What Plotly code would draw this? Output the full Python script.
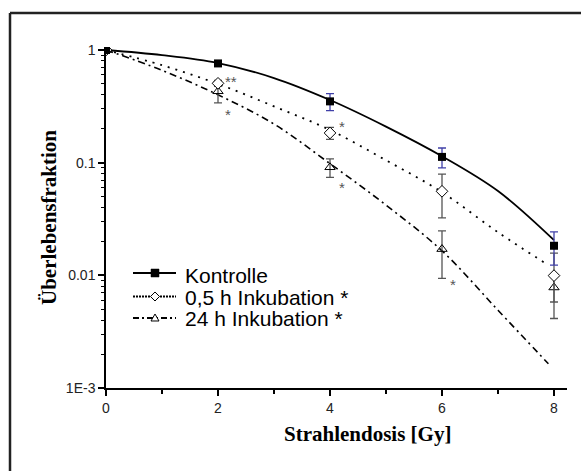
import math
import plotly.graph_objects as go

# Dose points (Gy)
dose = [0, 2, 4, 6, 8]

# Survival fractions with error bars
kontrolle = [1.0, 0.76, 0.35, 0.1125, 0.0183]
kontrolle_err = [0.0, 0.02, 0.06, 0.0225, 0.006]

inkub_05h = [1.0, 0.506, 0.1835, 0.0557, 0.00994]
inkub_05h_err = [0.0, 0.03, 0.0225, 0.0234, 0.0058]

inkub_24h = [1.0, 0.43, 0.091, 0.0171, 0.0078]
inkub_24h_err = [0.0, 0.09, 0.017, 0.0077, 0.002]

# Fitted survival curves
fit_x_ctrl = [0, 1, 2, 3, 4, 5, 6, 7, 8]
fit_ctrl = [1.0, 0.90, 0.766, 0.564, 0.36, 0.209, 0.114, 0.056, 0.0205]
fit_x_05h = [0, 1, 2, 3, 4, 5, 6, 7, 7.9]
fit_05h = [1.0, 0.733, 0.50, 0.316, 0.195, 0.105, 0.0547, 0.0241, 0.0123]
fit_x_24h = [0, 1, 2, 3, 4, 5, 6, 7, 7.9]
fit_24h = [1.0, 0.66, 0.40, 0.22, 0.098, 0.042, 0.0165, 0.0049, 0.00164]

# Significance markers
star_x = [2.24, 2.18, 4.22, 4.21, 6.19]
star_y = [0.57, 0.293, 0.226, 0.066, 0.00903]
star_txt = ["**", "*", "*", "*", "*"]

legend_names = ["Kontrolle", "0,5 h Inkubation *", "24 h Inkubation *"]

y_tickvals = [1, 0.1, 0.01, 0.001]
y_ticktext = ["1", "0.1", "0.01", "1E-3"]
x_tickvals = [0, 2, 4, 6, 8]

W, H = 581, 471
ML, MR, MT, MB = 106, 14, 47, 83
PW, PH = W - ML - MR, H - MT - MB


def px(x):
    return (x - ML) / PW


def py(y):
    return (H - MB - y) / PH


SANS = "Liberation Sans, Arial, sans-serif"
SERIF = "Liberation Serif, Times New Roman, serif"

fig = go.Figure()

# curves
fig.add_trace(go.Scatter(x=fit_x_ctrl, y=fit_ctrl, mode="lines", line_shape="spline",
                         line=dict(color="black", width=1.8), hoverinfo="skip"))
fig.add_trace(go.Scatter(x=fit_x_05h, y=fit_05h, mode="lines", line_shape="spline",
                         line=dict(color="black", width=1.8, dash="2px,6px"), hoverinfo="skip"))
fig.add_trace(go.Scatter(x=fit_x_24h, y=fit_24h, mode="lines", line_shape="spline",
                         line=dict(color="black", width=1.6, dash="7px,4px,2px,4px"), hoverinfo="skip"))

# data points
fig.add_trace(go.Scatter(x=dose, y=inkub_24h, mode="markers", name=legend_names[2],
                         marker=dict(symbol="triangle-up-open", size=9, color="black", line=dict(width=1)),
                         error_y=dict(type="data", array=inkub_24h_err, color="#555555", thickness=1.3, width=4)))
fig.add_trace(go.Scatter(x=dose, y=inkub_05h, mode="markers", name=legend_names[1],
                         marker=dict(symbol="diamond", size=9, color="white", line=dict(width=1, color="black")),
                         error_y=dict(type="data", array=inkub_05h_err, color="#555555", thickness=1.3, width=4)))
fig.add_trace(go.Scatter(x=dose, y=kontrolle, mode="markers", name=legend_names[0],
                         marker=dict(symbol="square", size=8, color="black"),
                         error_y=dict(type="data", array=kontrolle_err, color="#4040a8", thickness=1.3, width=4)))

annotations = []
for sx, sy, st in zip(star_x, star_y, star_txt):
    annotations.append(dict(x=sx, y=math.log10(sy), xref="x", yref="y", text=st, showarrow=False,
                            font=dict(family=SANS, size=15, color="#555555"),
                            xanchor="center", yanchor="middle", yshift=-4))

# legend block
rows = [273, 296.5, 318]
text_rows = [275, 297, 318]
for name, ty in zip(legend_names, text_rows):
    annotations.append(dict(x=px(183), y=py(ty), xref="paper", yref="paper", text=name,
                            showarrow=False, xanchor="left", yanchor="middle",
                            font=dict(family=SANS, size=21, color="black")))

annotations.append(dict(x=px(367), y=py(434), xref="paper", yref="paper",
                        text="<b>Strahlendosis [Gy]</b>", showarrow=False,
                        xanchor="center", yanchor="middle",
                        font=dict(family=SERIF, size=21, color="black")))
annotations.append(dict(x=px(49), y=py(218), xref="paper", yref="paper",
                        text="<b>Überlebensfraktion</b>", showarrow=False, textangle=-90,
                        xanchor="center", yanchor="middle",
                        font=dict(family=SERIF, size=21, color="black")))

shapes = []
# outer frame: left and top edges, the others run off the page
shapes.append(dict(type="line", xref="paper", yref="paper", x0=px(10), x1=px(10),
                   y0=py(13), y1=py(490), line=dict(color="#222222", width=2.5)))
shapes.append(dict(type="line", xref="paper", yref="paper", x0=px(10), x1=px(600),
                   y0=py(13), y1=py(13), line=dict(color="#222222", width=2.5)))
# legend samples
dashes = ["solid", "2px,1px", "6px,3px,2px,3px"]
for ly, d in zip(rows, dashes):
    shapes.append(dict(type="line", xref="paper", yref="paper", x0=px(133), x1=px(176),
                       y0=py(ly), y1=py(ly), line=dict(color="black", width=2, dash=d)))
cx = 155
shapes.append(dict(type="rect", xref="paper", yref="paper", x0=px(cx - 4), x1=px(cx + 4),
                   y0=py(rows[0] + 4), y1=py(rows[0] - 4), fillcolor="black",
                   line=dict(color="black", width=0.5)))
shapes.append(dict(type="path", xref="paper", yref="paper",
                   path="M %f %f L %f %f L %f %f L %f %f Z" % (
                       px(cx - 4.5), py(rows[1]), px(cx), py(rows[1] - 4.5),
                       px(cx + 4.5), py(rows[1]), px(cx), py(rows[1] + 4.5)),
                   fillcolor="white", line=dict(color="black", width=1)))
shapes.append(dict(type="path", xref="paper", yref="paper",
                   path="M %f %f L %f %f L %f %f Z" % (
                       px(cx - 4), py(rows[2] + 3), px(cx + 4), py(rows[2] + 3),
                       px(cx), py(rows[2] - 4)),
                   fillcolor="white", line=dict(color="black", width=1)))

fig.update_layout(
    width=W, height=H,
    margin=dict(l=ML, r=MR, t=MT, b=MB, pad=0),
    paper_bgcolor="white", plot_bgcolor="white",
    showlegend=False,
    annotations=annotations,
    shapes=shapes,
    xaxis=dict(range=[0, PW / 56.0], tickvals=x_tickvals, showgrid=False, zeroline=False,
               showline=True, linecolor="black", linewidth=1.5,
               ticks="outside", ticklen=6, tickwidth=1.5, tickcolor="black",
               minor=dict(tickvals=[1, 3, 5, 7], ticks="outside", ticklen=4, tickwidth=1.5,
                          tickcolor="black", showgrid=False),
               tickfont=dict(family=SANS, size=14, color="#222222")),
    yaxis=dict(type="log", range=[-3, 0.0266], tickvals=y_tickvals, ticktext=y_ticktext,
               showgrid=False, zeroline=False, showline=True, linecolor="black", linewidth=1.5,
               ticks="outside", ticklen=6, tickwidth=1.5, tickcolor="black",
               minor=dict(ticks="outside", ticklen=3, tickwidth=1, tickcolor="black",
                          dtick="D1", showgrid=False),
               tickfont=dict(family=SANS, size=14, color="#222222")),
)

fig.write_html("out.html")
